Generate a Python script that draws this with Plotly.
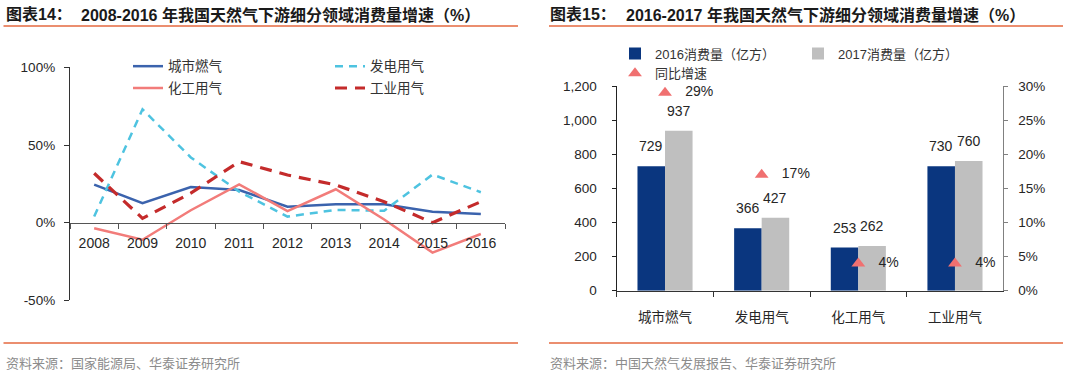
import plotly.graph_objects as go

# ---------------- data ----------------
years = ['2008', '2009', '2010', '2011', '2012', '2013', '2014', '2015', '2016']
city_gas = [24.5, 12.5, 23, 21, 10.3, 11.8, 11.8, 7.1, 5.6]      # 城市燃气
power_gas = [3.9, 73, 42, 20, 3.9, 8.2, 7.7, 31, 19.6]           # 发电用气
chem_gas = [-3.6, -11, 8, 24.7, 7.5, 21.5, 2, -19.3, -7.3]       # 化工用气
ind_gas = [31.8, 2.8, 19, 39.3, 30.7, 24.3, 13.5, 0, 13.5]       # 工业用气

sectors = ['城市燃气', '发电用气', '化工用气', '工业用气']
cons_2016 = [729, 366, 253, 730]
cons_2017 = [937, 427, 262, 760]
growth_pct = [29, 17, 4, 4]

left_yticks = [-50, 0, 50, 100]
left_yticktext = ['-50%', '0%', '50%', '100%']

# ---------------- helpers ----------------
W, H = 1080, 382
def px(x):
    return x / W
def py(y):
    return 1 - y / H

LAT = 'Liberation Sans, Arial, Noto Sans CJK SC, sans-serif'
CJK = 'Liberation Sans, Noto Sans CJK SC, sans-serif'
TXT = '#262626'

fig = go.Figure()

# ---------------- left chart: lines ----------------
line_specs = [
    ('城市燃气', city_gas, dict(color='#3B63AD', width=2.5), 'legend'),
    ('发电用气', power_gas, dict(color='#4EC3E0', width=2.5, dash='8px,6px'), 'legend2'),
    ('化工用气', chem_gas, dict(color='#F27C7A', width=2.5), 'legend3'),
    ('工业用气', ind_gas, dict(color='#C42B2B', width=3.2, dash='12px,8px'), 'legend4'),
]
for name, vals, ln, lg in line_specs:
    fig.add_trace(go.Scatter(x=years, y=vals, name=name, mode='lines', line=ln,
                             xaxis='x', yaxis='y', legend=lg))

# ---------------- right chart: bars + markers ----------------
fig.add_trace(go.Bar(x=sectors, y=cons_2016, name='2016消费量（亿方）',
                     marker=dict(color='#0A367F', line=dict(width=0)),
                     xaxis='x2', yaxis='y2', legend='legend5'))
fig.add_trace(go.Bar(x=sectors, y=cons_2017, name='2017消费量（亿方）',
                     marker=dict(color='#BFBFBF', line=dict(width=0)),
                     xaxis='x2', yaxis='y2', legend='legend6'))
fig.add_trace(go.Scatter(x=sectors, y=growth_pct, name='同比增速', mode='markers+text',
                         marker=dict(symbol='triangle-up', size=12, color='#F07070'),
                         text=['\u00a0\u00a0\u00a0%d%%' % g for g in growth_pct],
                         textposition='middle right',
                         textfont=dict(family=LAT, size=14, color=TXT),
                         xaxis='x2', yaxis='y3', legend='legend7', cliponaxis=False))

annotations = []
# bar value labels, placed above each bar through the data scales
for xs, vals, shift in ((sectors, cons_2016, -13.8), (sectors, cons_2017, 13.8)):
    for s, v in zip(xs, vals):
        annotations.append(dict(x=s, y=v, xref='x2', yref='y2', text=str(v),
                                showarrow=False, xshift=shift, yshift=20,
                                xanchor='center', yanchor='middle',
                                font=dict(family=LAT, size=14, color=TXT)))

TF = dict(family=CJK, size=16, color='#1a1a1a')
annotations += [
    dict(x=px(4), y=py(15), xref='paper', yref='paper', text='<b>图表14：</b>',
         showarrow=False, xanchor='left', yanchor='middle', font=TF),
    dict(x=px(79), y=py(15), xref='paper', yref='paper',
         text='<b>2008-2016 年我国天然气下游细分领域消费量增速（%）</b>',
         showarrow=False, xanchor='left', yanchor='middle', font=TF),
    dict(x=px(548), y=py(15), xref='paper', yref='paper', text='<b>图表15：</b>',
         showarrow=False, xanchor='left', yanchor='middle', font=TF),
    dict(x=px(624), y=py(15), xref='paper', yref='paper',
         text='<b>2016-2017 年我国天然气下游细分领域消费量增速（%）</b>',
         showarrow=False, xanchor='left', yanchor='middle', font=TF),
    dict(x=px(4), y=py(363), xref='paper', yref='paper',
         text='资料来源：国家能源局、华泰证券研究所',
         showarrow=False, xanchor='left', yanchor='middle',
         font=dict(family=CJK, size=13, color='#8c8c8c')),
    dict(x=px(548), y=py(363), xref='paper', yref='paper',
         text='资料来源：中国天然气发展报告、华泰证券研究所',
         showarrow=False, xanchor='left', yanchor='middle',
         font=dict(family=CJK, size=13, color='#8c8c8c')),
]

rule = dict(color='#E4683F', width=1.6)
shapes = [
    dict(type='line', xref='paper', yref='paper', x0=px(3.5), x1=px(518), y0=py(26), y1=py(26), line=rule),
    dict(type='line', xref='paper', yref='paper', x0=px(549), x1=px(1063), y0=py(26), y1=py(26), line=rule),
    dict(type='line', xref='paper', yref='paper', x0=px(3.5), x1=px(518), y0=py(343), y1=py(343), line=rule),
    dict(type='line', xref='paper', yref='paper', x0=px(549), x1=px(1063), y0=py(343), y1=py(343), line=rule),
]

def leg(x, y, size=13.5):
    return dict(x=px(x), y=py(y), xanchor='left', yanchor='middle', orientation='v',
                bgcolor='rgba(0,0,0,0)', borderwidth=0,
                font=dict(family=CJK, size=size, color='#333333'))

# left plot geometry
L_TOP, L_BOT = 67.4, 300.3
zero_pos = py(222.7)

fig.update_layout(
    width=W, height=H,
    margin=dict(l=0, r=0, t=0, b=0, autoexpand=False),
    paper_bgcolor='white', plot_bgcolor='white',
    showlegend=True,
    barmode='group', bargap=0.43, bargroupgap=0,
    xaxis=dict(domain=[px(70), px(505)], type='category', anchor='free', position=zero_pos,
               range=[-0.5, len(years) - 0.5], automargin=False,
               showline=True, linecolor='#555555', linewidth=1.3,
               ticks='outside', ticklen=5, tickcolor='#555555', tickwidth=1.3,
               tickson='boundaries', showgrid=False, zeroline=False,
               ticklabelstandoff=7,
               tickfont=dict(family=LAT, size=14, color=TXT)),
    yaxis=dict(domain=[py(L_BOT), py(L_TOP)], anchor='x', range=[-50, 100],
               tickmode='array', tickvals=left_yticks, ticktext=left_yticktext,
               automargin=False,
               showline=True, linecolor='#333333', linewidth=1.3,
               ticks='outside', ticklen=5, tickcolor='#333333', tickwidth=1.3,
               showgrid=False, zeroline=False, ticklabelstandoff=6,
               tickfont=dict(family=LAT, size=13.5, color=TXT)),
    xaxis2=dict(domain=[px(616.7), px(1003.3)], type='category', anchor='y2',
                automargin=False,
                showline=True, linecolor='#333333', linewidth=1.3,
                ticks='outside', ticklen=5, tickcolor='#333333', tickwidth=1.3,
                tickson='boundaries', showgrid=False, zeroline=False,
                ticklabelstandoff=14,
                tickfont=dict(family=CJK, size=13.5, color=TXT)),
    yaxis2=dict(domain=[py(290.7), py(86)], anchor='x2', range=[0, 1200], dtick=200,
                tickformat=',', automargin=False,
                showline=True, linecolor='#222222', linewidth=1.3,
                ticks='outside', ticklen=4, tickcolor='#222222', tickwidth=1.3,
                showgrid=False, zeroline=False, ticklabelstandoff=12,
                tickfont=dict(family=LAT, size=13.5, color=TXT)),
    yaxis3=dict(overlaying='y2', side='right', anchor='x2', range=[0, 30], dtick=5,
                ticksuffix='%', automargin=False,
                showline=True, linecolor='#808080', linewidth=1.3,
                ticks='outside', ticklen=4, tickcolor='#808080', tickwidth=1.3,
                showgrid=False, zeroline=False, ticklabelstandoff=7,
                tickfont=dict(family=LAT, size=13.5, color=TXT)),
    legend=leg(128, 66.4),
    legend2=leg(330, 66.4),
    legend3=leg(128, 88.2),
    legend4=leg(330, 88.2),
    legend5=leg(615, 53.6, 13),
    legend6=leg(798, 53.6, 13),
    legend7=leg(615, 73.4, 13),
    annotations=annotations,
    shapes=shapes,
)

fig.write_html('out.html', config={'displayModeBar': False},
               post_script="document.body.style.margin='0';document.body.style.padding='0';")
